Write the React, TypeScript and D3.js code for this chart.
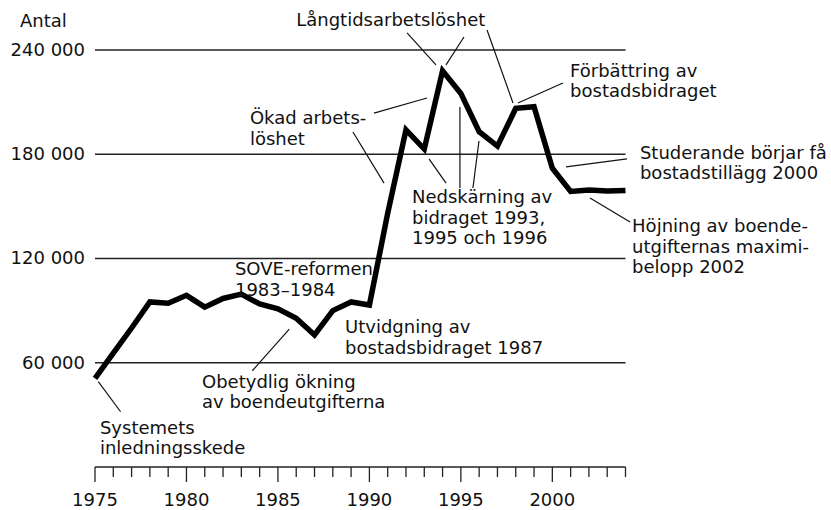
import React from 'react';
import * as d3 from 'd3';

// ==== data

const years = [
  1975, 1976, 1977, 1978, 1979, 1980, 1981, 1982, 1983, 1984,
  1985, 1986, 1987, 1988, 1989, 1990, 1991, 1992, 1993, 1994,
  1995, 1996, 1997, 1998, 1999, 2000, 2001, 2002, 2003, 2004
];

const antal = [
  51000, 65500, 80000, 95000, 94300, 98800, 92000, 97000, 99500, 93800,
  91000, 85600, 76000, 90000, 95000, 93200, 146000, 194000, 183000, 228000,
  215000, 193000, 184700, 206400, 207400, 171900, 158600, 159400, 158800, 159200
];

const yTicks = [60000, 120000, 180000, 240000];
const xLabelYears = [1975, 1980, 1985, 1990, 1995, 2000];

// text notes, anchored in data units: [year, value, lines]
const notes: [number, number, string[]][] = [
  [1986.0, 254000, ['Långtidsarbetslöshet']],
  [1983.47, 197400, ['Ökad arbets-', 'löshet']],
  [1992.33, 151900, ['Nedskärning av', 'bidraget 1993,', '1995 och 1996']],
  [2000.97, 224500, ['Förbättring av', 'bostadsbidraget']],
  [2004.79, 177300, ['Studerande börjar få', 'bostadstillägg 2000']],
  [2004.36, 135250, ['Höjning av boende-', 'utgifternas maximi-', 'belopp 2002']],
  [1982.65, 110500, ['SOVE-reformen', '1983–1984']],
  [1988.67, 77100, ['Utvidgning av', 'bostadsbidraget 1987']],
  [1980.85, 45470, ['Obetydlig ökning', 'av boendeutgifterna']],
  [1975.27, 19000, ['Systemets', 'inledningsskede']]
];

// leader lines: [year1, value1, year2, value2]
const leaders: [number, number, number, number][] = [
  [1975.18, 49100, 1976.4, 31800],
  [1983.6, 55400, 1985.62, 79400],
  [1990.25, 203700, 1993.15, 212400],
  [1989.1, 192800, 1990.8, 163400],
  [1992.06, 249800, 1993.64, 231400],
  [1995.17, 247500, 1994.19, 231400],
  [1996.43, 251500, 1997.85, 209500],
  [1998.12, 209500, 2000.58, 221000],
  [1993.26, 177300, 1994.19, 163400],
  [1994.95, 207200, 1994.95, 160600],
  [1995.99, 187600, 1995.66, 160600],
  [2004.08, 177300, 2000.75, 172700],
  [2004.25, 141000, 2002.06, 154800]
];

// ====

const W = 831;
const H = 510;
const FONT = '"DejaVu Sans", Verdana, sans-serif';
const FS = 18;
const LH = 20.5;

export default function App() {
  const x = d3.scaleLinear().domain([1975, 2004]).range([95, 625.5]);
  const y = d3.scaleLinear().domain([0, 240000]).range([467, 50]);

  const line = d3.line<number>()
    .x((d, i) => x(years[i]))
    .y((d) => y(d));

  const fmt = (v: number) => d3.format(',')(v).replace(/,/g, ' ');

  return (
    <svg width={W} height={H}
      style={{ position: 'absolute', left: 0, top: 0, background: '#fff' }}
      fontFamily={FONT} fontSize={FS} fill="#111">
      {/* y axis title */}
      <text x={20} y={27}>Antal</text>

      {yTicks.map((t) => (
        <g key={t}>
          <line x1={x(1975)} x2={x(2004)} y1={y(t)} y2={y(t)} stroke="#222" strokeWidth={1.3} />
          <text x={x(1975) - 10} y={y(t)} dy="0.33em" textAnchor="end">{fmt(t)}</text>
        </g>
      ))}

      {/* x axis */}
      <line x1={x(1975)} x2={x(2004)} y1={y(0)} y2={y(0)} stroke="#222" strokeWidth={1.3} />
      {years.map((yr) => (
        <line key={yr} x1={x(yr)} x2={x(yr)} y1={y(0)}
          y2={y(0) + (yr % 5 === 0 ? 15 : 10)} stroke="#222" strokeWidth={1.3} />
      ))}
      {xLabelYears.map((yr) => (
        <text key={yr} x={x(yr)} y={y(0) + 38.5} textAnchor="middle">{yr}</text>
      ))}

      {/* leaders */}
      {leaders.map((l, i) => (
        <line key={i} x1={x(l[0])} y1={y(l[1])} x2={x(l[2])} y2={y(l[3])}
          stroke="#111" strokeWidth={1.2} />
      ))}

      {/* series */}
      <path d={line(antal) || ''} fill="none" stroke="#000" strokeWidth={5.5}
        strokeLinejoin="miter" strokeMiterlimit={4} />

      {/* notes */}
      {notes.map(([yr, v, lines], i) => (
        <text key={i} x={x(yr)} y={y(v)}>
          {lines.map((s, j) => (
            <tspan key={j} x={x(yr)} dy={j === 0 ? 0 : LH}>{s}</tspan>
          ))}
        </text>
      ))}
    </svg>
  );
}
